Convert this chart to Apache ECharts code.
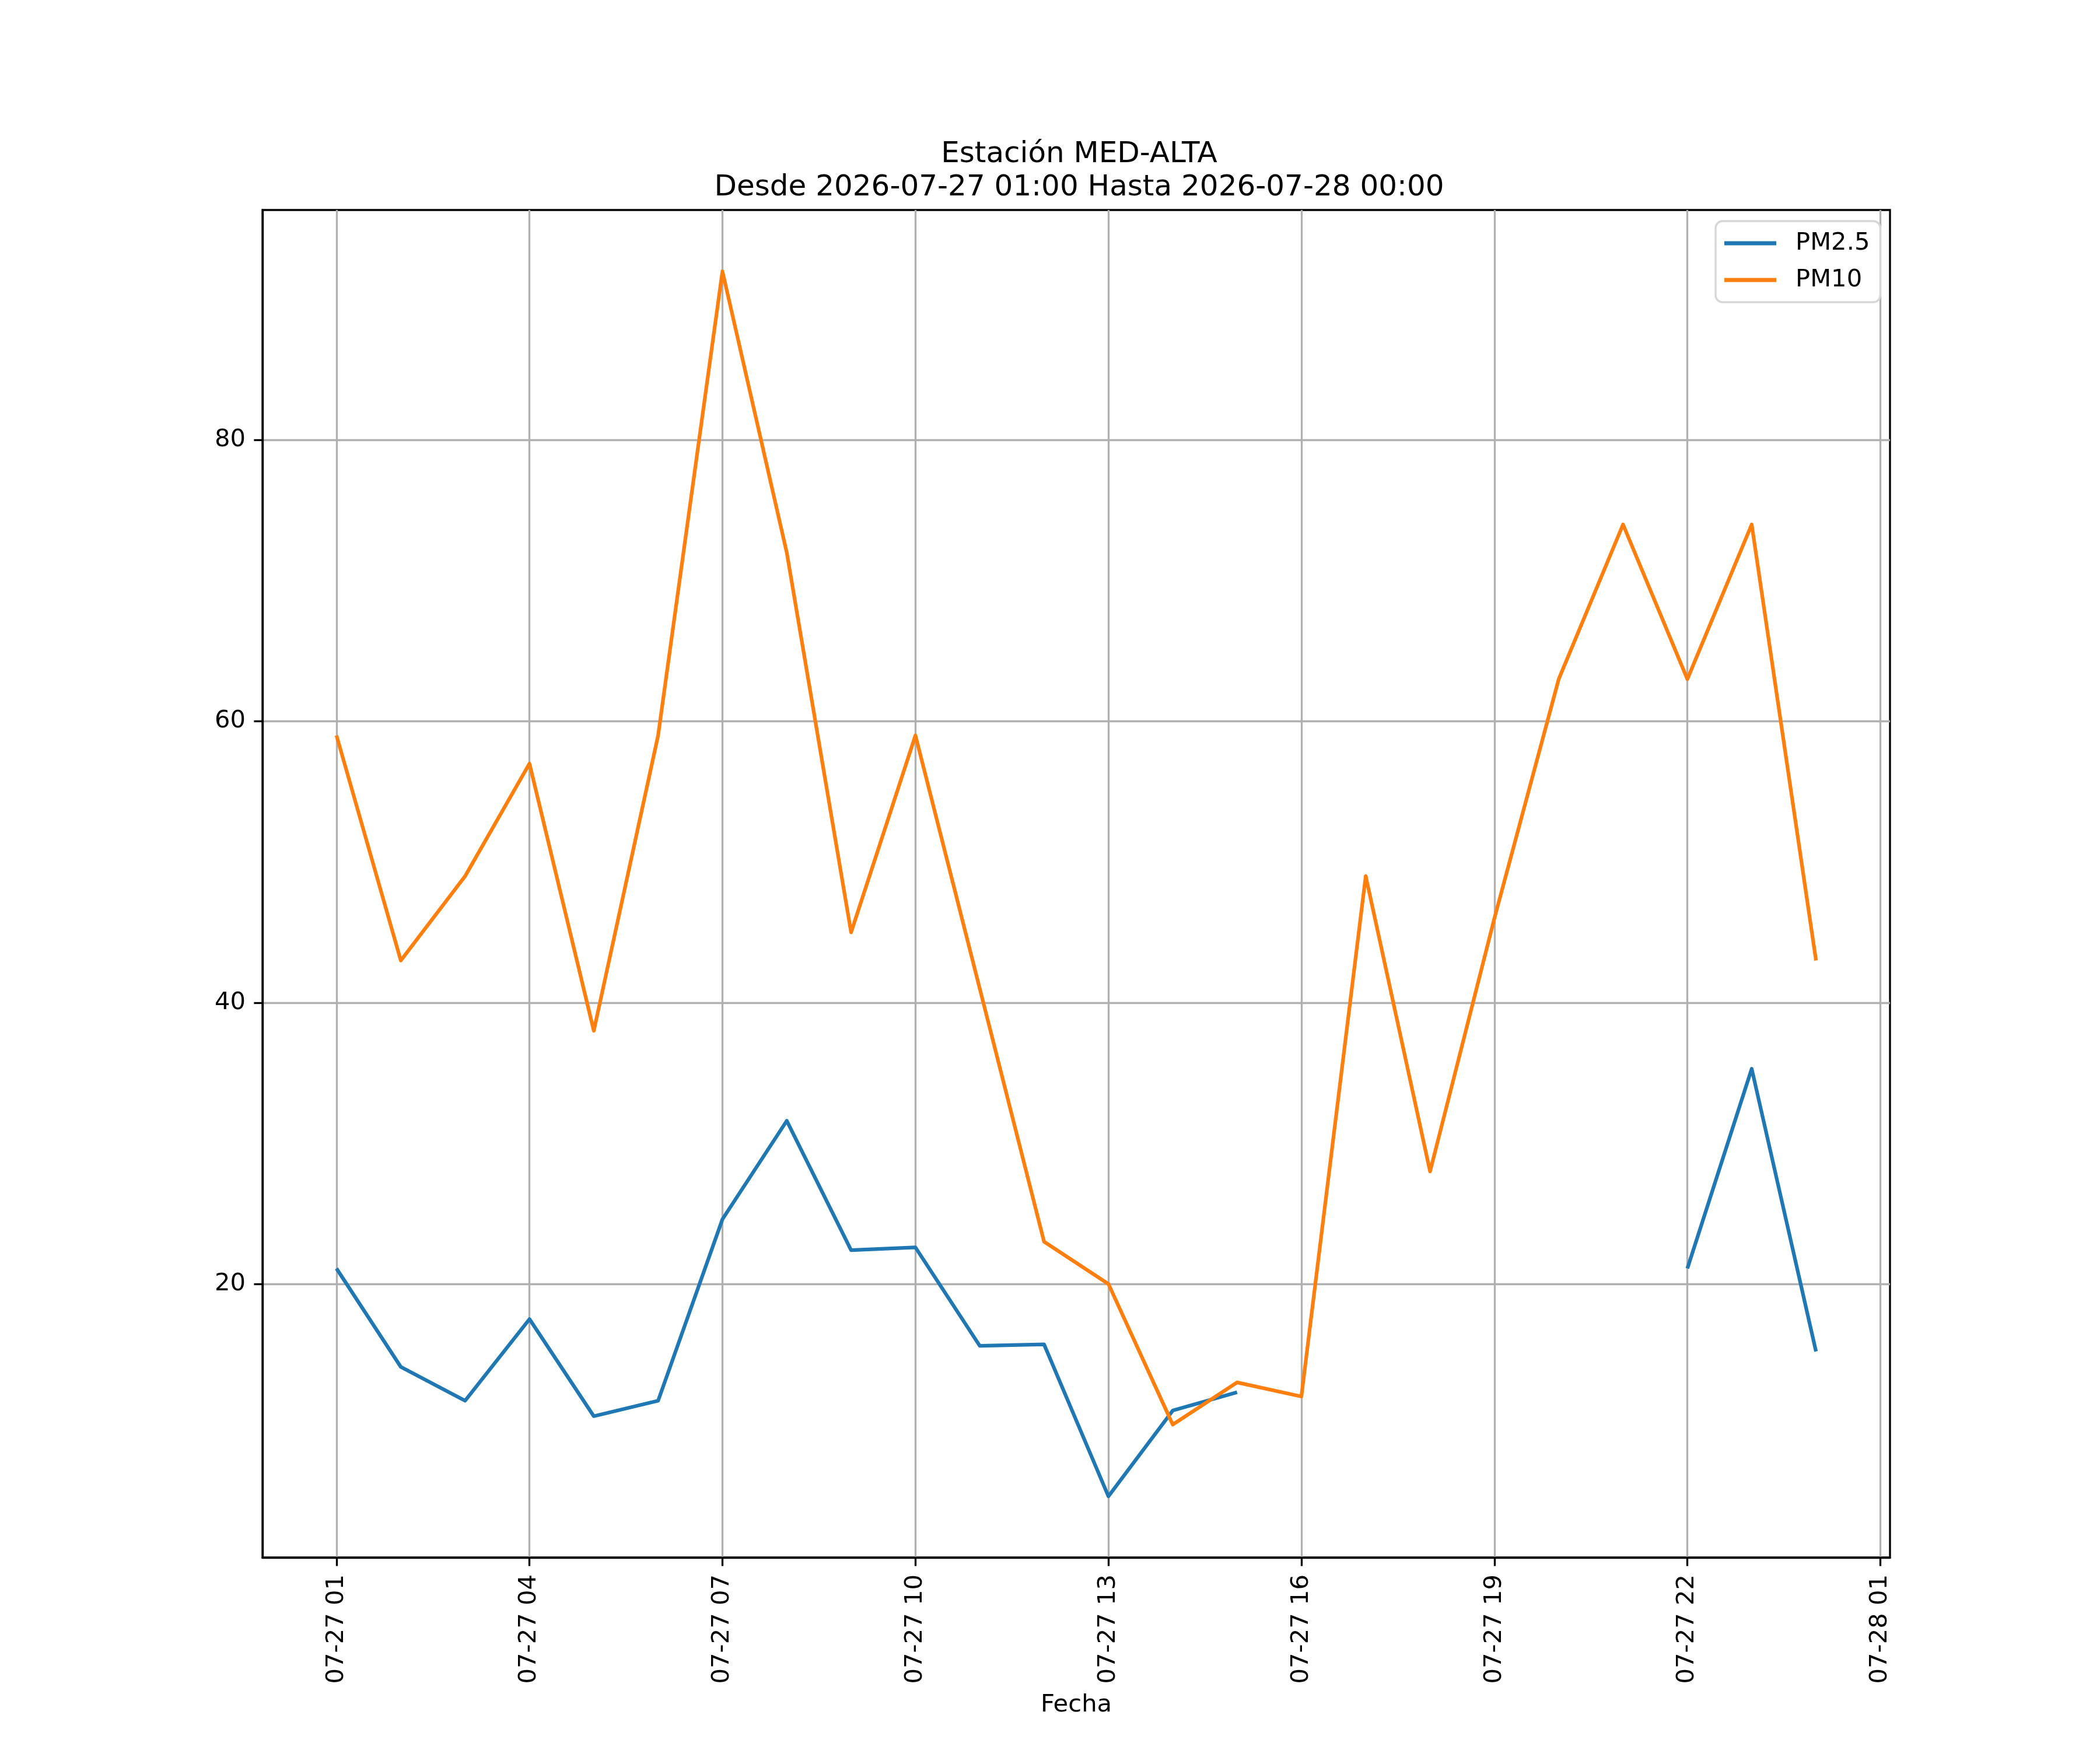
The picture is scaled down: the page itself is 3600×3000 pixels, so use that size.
<!DOCTYPE html>
<html>
	<head>
		<meta charset="UTF-8">
		<title>index</title>
		<style>
			html, body { margin: 0; padding: 0; background: #fff; }
			#main { width: 3600px; height: 3000px; }
		</style>
		<script src="https://cdn.jsdelivr.net/npm/echarts@6/dist/echarts.min.js"></script>
	</head>
	<body>
		<div id="main"></div>
		<script>
			// horas desde 2026-07-27 00:00
			const hours = [1, 2, 3, 4, 5, 6, 7, 8, 9, 10, 11, 12, 13, 14, 15, 16, 17, 18, 19, 20, 21, 22, 23, 24]
			const pm25 = [21.1, 14.1, 11.7, 17.5, 10.6, 11.7, 24.6, 31.6, 22.4, 22.6, 15.6, 15.7, 4.9, 11.0, 12.3,
				null, null, null, null, null, null, 21.1, 35.3, 15.2]
			const pm10 = [59, 43, 49, 57, 38, 59, 92, 72, 45, 59, 41, 23, 20, 10, 13, 12, 49, 28, 46, 63, 74, 63, 74, 43]

			const tickHours = [1, 4, 7, 10, 13, 16, 19, 22, 25]
			const tickLabels = ['07-27 01', '07-27 04', '07-27 07', '07-27 10', '07-27 13', '07-27 16', '07-27 19', '07-27 22', '07-28 01']
			const yTicks = [20, 40, 60, 80]

			const font = 'DejaVu Sans'
			const fs = 41.7
			const spine = 3.33

			function pairs(vals) {
				let out = []
				for (let i = 0; i < hours.length; i++) out.push([hours[i], vals[i]])
				return out
			}

			let chart = echarts.init(document.getElementById('main'), null, { renderer: 'canvas' })
			let option = {
				animation: false,
				backgroundColor: '#ffffff',
				textStyle: { fontFamily: font },
				title: {
					text: 'Estación MED-ALTA\nDesde 2026-07-27 01:00 Hasta 2026-07-28 00:00',
					left: 1845,
					top: 232,
					textAlign: 'center',
					textStyle: { fontFamily: font, fontSize: 50, fontWeight: 'normal', color: '#000', lineHeight: 57 }
				},
				legend: {
					orient: 'vertical',
					left: 2941,
					top: 379,
					padding: [17, 18, 17, 15],
					itemWidth: 89,
					itemHeight: 7,
					itemGap: 21,
					borderColor: '#d6d6d6',
					borderWidth: 3.33,
					borderRadius: 12,
					backgroundColor: 'rgba(255,255,255,0.8)',
					formatter: '{t|{name}}',
					textStyle: {
						fontFamily: font, fontSize: fs, color: '#000', lineHeight: 42,
						rich: { t: { fontFamily: font, fontSize: fs, color: '#000', lineHeight: 42, padding: [0, 0, 0, 28] } }
					},
					data: [
						{ name: 'PM2.5', icon: 'rect' },
						{ name: 'PM10', icon: 'rect' }
					]
				},
				grid: {
					left: 450, right: 360, top: 360, bottom: 330,
					show: true, borderColor: '#000', borderWidth: spine, containLabel: false
				},
				xAxis: {
					type: 'value',
					min: -0.15,
					max: 25.15,
					name: 'Fecha',
					nameLocation: 'middle',
					nameGap: 232,
					nameTextStyle: { fontFamily: font, fontSize: fs, color: '#000', verticalAlign: 'top' },
					axisLine: { show: true, onZero: false, lineStyle: { color: '#000', width: spine } },
					axisTick: { show: true, length: 14.6, customValues: tickHours, lineStyle: { color: '#000', width: spine } },
					axisLabel: {
						customValues: tickHours,
						rotate: 90,
						margin: 29,
						fontFamily: font,
						fontSize: fs,
						color: '#000',
						formatter: function (v) {
							let i = tickHours.indexOf(v)
							return i >= 0 ? tickLabels[i] : ''
						}
					},
					splitLine: { show: true, lineStyle: { color: '#b0b0b0', width: 3.33 } }
				},
				yAxis: {
					type: 'value',
					min: 0.55,
					max: 96.36,
					axisLine: { show: true, onZero: false, lineStyle: { color: '#000', width: spine } },
					axisTick: { show: true, length: 14.6, customValues: yTicks, lineStyle: { color: '#000', width: spine } },
					axisLabel: {
						customValues: yTicks,
						margin: 29,
						fontFamily: font,
						fontSize: fs,
						color: '#000'
					},
					splitLine: { show: true, lineStyle: { color: '#b0b0b0', width: 3.33 } }
				},
				series: [
					{
						name: 'PM2.5',
						type: 'line',
						data: pairs(pm25),
						symbol: 'none',
						connectNulls: false,
						color: '#1f77b4',
						itemStyle: { color: '#1f77b4' },
						lineStyle: { color: '#1f77b4', width: 6.25, join: 'round', cap: 'butt' }
					},
					{
						name: 'PM10',
						type: 'line',
						data: pairs(pm10),
						symbol: 'none',
						color: '#ff7f0e',
						itemStyle: { color: '#ff7f0e' },
						lineStyle: { color: '#ff7f0e', width: 6.25, join: 'round', cap: 'butt' }
					}
				]
			}
			chart.setOption(option)
		</script>
	</body>
</html>
